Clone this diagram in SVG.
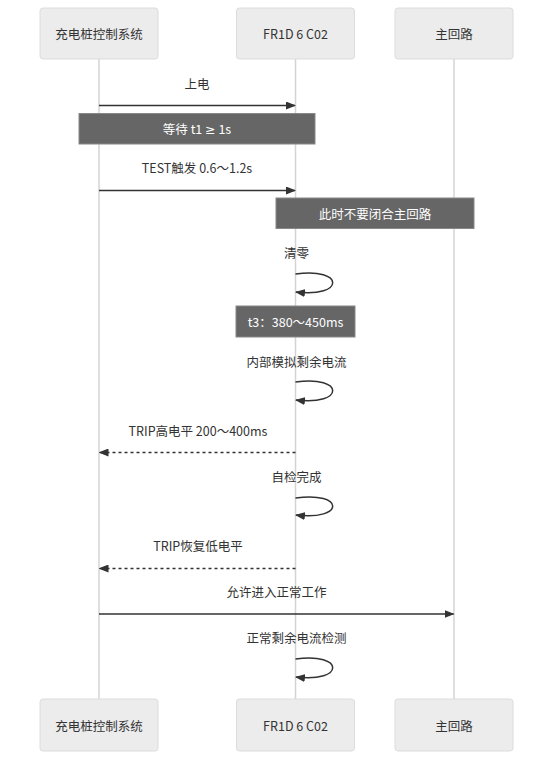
<svg xmlns="http://www.w3.org/2000/svg" width="553" height="761" viewBox="0 0 553 761">
<style>
text{font-family:"Noto Sans CJK SC","Noto Sans",sans-serif;font-size:12.5px;fill:#333;text-anchor:middle;dominant-baseline:central}
.actor{fill:#ececec;stroke:#dcdcdc;stroke-width:1}
.life{stroke:#d4d4d4;stroke-width:1.5}
.note{fill:#666;stroke:#888;stroke-width:1}
.nt{fill:#fff}
.ge{font-family:"Noto Sans","DejaVu Sans",sans-serif}
.msg{stroke:#333;stroke-width:1.5;fill:none}
.dash{stroke-dasharray:3,3}
</style>
<defs>
<marker id="ah" markerWidth="10" markerHeight="8" refX="9" refY="4" orient="auto" markerUnits="userSpaceOnUse">
<path d="M0,0 L10,4 L0,8 z" fill="#333"/>
</marker>
</defs>
<g id="lifelines">
<line class="life" x1="99" y1="59" x2="99" y2="699"/>
<line class="life" x1="295.5" y1="59" x2="295.5" y2="699"/>
<line class="life" x1="454" y1="59" x2="454" y2="699"/>
</g>
<g id="actor-top-1"><rect class="actor" x="40" y="8" width="118" height="51" rx="3"/><text x="99" y="33.5">充电桩控制系统</text></g>
<g id="actor-top-2"><rect class="actor" x="236.5" y="8" width="118" height="51" rx="3"/><text x="295.5" y="33.5">FR1D 6 C02</text></g>
<g id="actor-top-3"><rect class="actor" x="395" y="8" width="118" height="51" rx="3"/><text x="454" y="33.5">主回路</text></g>
<g id="actor-bottom-1"><rect class="actor" x="40" y="699" width="118" height="52" rx="3"/><text x="99" y="725">充电桩控制系统</text></g>
<g id="actor-bottom-2"><rect class="actor" x="236.5" y="699" width="118" height="52" rx="3"/><text x="295.5" y="725">FR1D 6 C02</text></g>
<g id="actor-bottom-3"><rect class="actor" x="395" y="699" width="118" height="52" rx="3"/><text x="454" y="725">主回路</text></g>
<g id="note-1"><rect class="note" x="79" y="113.5" width="236" height="30.5"/><text class="nt" x="197" y="128.5">等待 t1 <tspan class="ge">≥</tspan> 1s</text></g>
<g id="note-2"><rect class="note" x="276" y="198" width="198" height="30.5"/><text class="nt" x="375" y="213">此时不要闭合主回路</text></g>
<g id="note-3"><rect class="note" x="236" y="306" width="119" height="31"/><text class="nt" x="295.5" y="321.5">t3：380～450ms</text></g>
<g id="connectors">
<text x="197" y="83">上电</text>
<line class="msg" x1="99" y1="105.5" x2="295" y2="105.5" marker-end="url(#ah)"/>
<text x="197" y="167">TEST触发 0.6～1.2s</text>
<line class="msg" x1="99" y1="190.5" x2="295" y2="190.5" marker-end="url(#ah)"/>
<text x="296.5" y="252">清零</text>
<path class="msg" d="M295.5,274 C345,267 345,298 296,292" marker-end="url(#ah)"/>
<text x="296.5" y="361">内部模拟剩余电流</text>
<path class="msg" d="M295.5,382 C345,375 345,406 296,400" marker-end="url(#ah)"/>
<text x="198" y="430">TRIP高电平 200～400ms</text>
<line class="msg dash" x1="295.5" y1="452.5" x2="99.5" y2="452.5" marker-end="url(#ah)"/>
<text x="296.5" y="476">自检完成</text>
<path class="msg" d="M295.5,498 C345,491 345,521 296,515" marker-end="url(#ah)"/>
<text x="198" y="545.5">TRIP恢复低电平</text>
<line class="msg dash" x1="295.5" y1="568.5" x2="99.5" y2="568.5" marker-end="url(#ah)"/>
<text x="276.5" y="591.5">允许进入正常工作</text>
<line class="msg" x1="99" y1="614" x2="453.5" y2="614" marker-end="url(#ah)"/>
<text x="296.5" y="637.5">正常剩余电流检测</text>
<path class="msg" d="M295.5,659 C345,652 345,683 296,677" marker-end="url(#ah)"/>
</g>
</svg>
